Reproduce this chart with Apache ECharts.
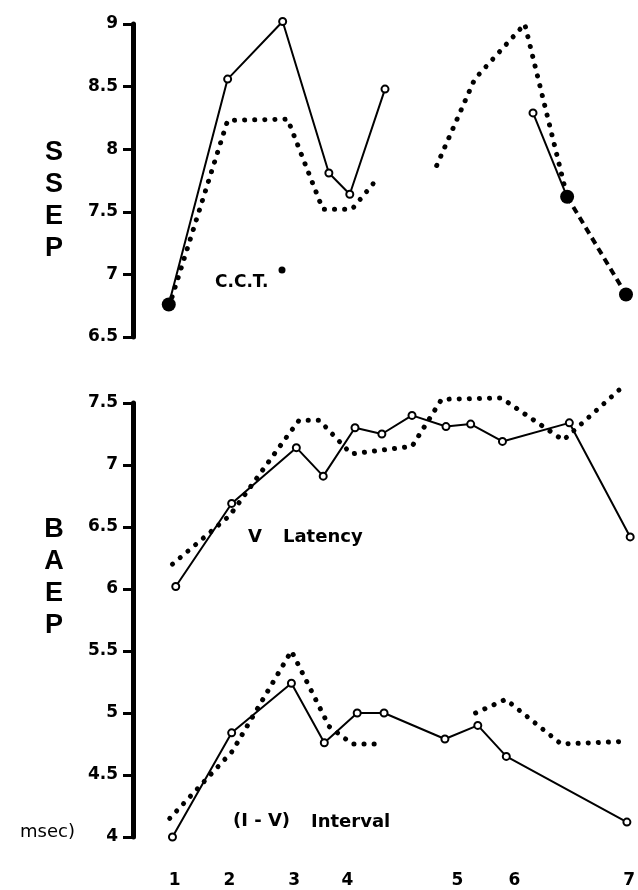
<!DOCTYPE html>
<html><head><meta charset="utf-8">
<script src="https://cdn.jsdelivr.net/npm/echarts@6/dist/echarts.min.js"></script>
<style>html,body{margin:0;padding:0;background:#fff}#c{width:638px;height:890px}</style>
</head><body><div id="c"></div>
<script>
// ---- tick labels ----
const xTickValues = [1, 2, 3.18, 4.15, 6.16, 7.2, 9.29];
const xTickLabels = ['1', '2', '3', '4', '5', '6', '7'];
const ssepTickValues = [6.5, 7, 7.5, 8, 8.5, 9];
const ssepTickLabels = ['6.5', '7', '7.5', '8', '8.5', '9'];
const baepTickValues = [4, 4.5, 5, 5.5, 6, 6.5, 7, 7.5];
const baepTickLabels = ['4', '4.5', '5', '5.5', '6', '6.5', '7', '7.5'];

// ---- SSEP ----
const ssepSolidAX = [0.89, 1.96, 2.96, 3.8, 4.18, 4.82];
const ssepSolidAY = [6.76, 8.56, 9.02, 7.81, 7.64, 8.48];
const ssepDotAX = [0.95, 1.96, 3.05, 3.69, 4.22, 4.69];
const ssepDotAY = [6.82, 8.23, 8.24, 7.52, 7.52, 7.77];
const ssepDotBX = [5.76, 6.45, 7.36, 8.13];
const ssepDotBY = [7.87, 8.56, 9.0, 7.62];
const ssepSolidBX = [7.51, 8.13];
const ssepSolidBY = [8.29, 7.62];
const ssepDashX = [8.13, 9.2];
const ssepDashY = [7.62, 6.84];

// ---- BAEP V latency ----
const latSolidX = [1.02, 2.04, 3.22, 3.71, 4.29, 4.78, 5.33, 5.95, 6.4, 6.98, 8.2, 9.31];
const latSolidY = [6.02, 6.69, 7.14, 6.91, 7.30, 7.25, 7.40, 7.31, 7.33, 7.19, 7.34, 6.42];
const latDotX = [0.96, 2.0, 3.0, 3.27, 3.64, 4.22, 5.33, 5.87, 6.96, 8.09, 9.22];
const latDotY = [6.2, 6.59, 7.2, 7.36, 7.36, 7.09, 7.15, 7.53, 7.54, 7.2, 7.65];

// ---- BAEP (I-V) interval ----
const intSolidX = [0.96, 2.04, 3.13, 3.73, 4.33, 4.82, 5.93, 6.53, 7.05, 9.25];
const intSolidY = [4.0, 4.84, 5.24, 4.76, 5.0, 5.0, 4.79, 4.90, 4.65, 4.12];
const intDotAX = [0.91, 2.05, 3.13, 3.82, 4.24, 4.82];
const intDotAY = [4.15, 4.69, 5.5, 4.89, 4.75, 4.75];
const intDotBX = [6.49, 7.04, 8.05, 9.18];
const intDotBY = [5.0, 5.11, 4.75, 4.77];

const zip = (xs, ys) => xs.map((x, i) => [x, ys[i]]);
const last = a => a[a.length - 1];
const cctPoints = [
  [ssepSolidAX[0], ssepSolidAY[0]],
  [last(ssepSolidBX), last(ssepSolidBY)],
  [last(ssepDashX), last(ssepDashY)]
];

const FONT = '"DejaVu Sans", sans-serif';
function solid(g, xs, ys) {
  return { type: 'line', xAxisIndex: g, yAxisIndex: g, data: zip(xs, ys), clip: false,
    symbol: 'circle', symbolSize: 7, z: 4,
    itemStyle: { color: '#fff', borderColor: '#000', borderWidth: 2, opacity: 1 },
    lineStyle: { color: '#000', width: 2 } };
}
function dotted(g, xs, ys) {
  return { type: 'line', xAxisIndex: g, yAxisIndex: g, data: zip(xs, ys), clip: false,
    symbol: 'none', showSymbol: false, z: 3,
    lineStyle: { color: '#000', width: 5, type: [0.1, 10], cap: 'round', join: 'round' } };
}
function lookup(vals, labs) {
  return v => { const i = vals.findIndex(t => Math.abs(t - v) < 1e-6); return i >= 0 ? labs[i] : ''; };
}
function yAxis(g, min, max, vals, labs) {
  return { type: 'value', gridIndex: g, min: min, max: max, interval: 0.5,
    splitLine: { show: false },
    axisLine: { show: true, onZero: false, lineStyle: { color: '#000', width: 5 } },
    axisTick: { show: true, length: 10, customValues: vals, lineStyle: { color: '#000', width: 3 } },
    axisLabel: { show: true, margin: 15, customValues: vals, formatter: lookup(vals, labs),
      color: '#000', fontFamily: FONT, fontWeight: 'bold', fontSize: 17 } };
}
function xAxis(g, showLabels) {
  return { type: 'value', gridIndex: g, min: 0.24, max: 9.4,
    splitLine: { show: false }, axisLine: { show: false }, axisTick: { show: false },
    axisLabel: { show: showLabels, margin: 35, customValues: xTickValues,
      formatter: lookup(xTickValues, xTickLabels),
      color: '#000', fontFamily: FONT, fontWeight: 'bold', fontSize: 17 } };
}

const chart = echarts.init(document.getElementById('c'), null, { renderer: 'canvas' });
chart.setOption({
  animation: false,
  backgroundColor: '#fff',
  grid: [
    { left: 133, right: 1, top: 24, height: 313 },
    { left: 133, right: 1, top: 403, height: 434 }
  ],
  xAxis: [xAxis(0, false), xAxis(1, true)],
  yAxis: [yAxis(0, 6.5, 9, ssepTickValues, ssepTickLabels), yAxis(1, 4, 7.5, baepTickValues, baepTickLabels)],
  series: [
    dotted(0, ssepDotAX, ssepDotAY),
    dotted(0, ssepDotBX, ssepDotBY),
    solid(0, ssepSolidAX, ssepSolidAY),
    solid(0, ssepSolidBX, ssepSolidBY),
    { type: 'line', xAxisIndex: 0, yAxisIndex: 0, data: zip(ssepDashX, ssepDashY), clip: false,
      symbol: 'none', showSymbol: false, z: 3,
      lineStyle: { color: '#000', width: 4, type: [7, 5] } },
    { type: 'scatter', name: 'C.C.T.', xAxisIndex: 0, yAxisIndex: 0, data: cctPoints, clip: false,
      symbol: 'circle', symbolSize: 14, z: 5, itemStyle: { color: '#000', opacity: 1 } },
    dotted(1, latDotX, latDotY),
    solid(1, latSolidX, latSolidY),
    dotted(1, intDotAX, intDotAY),
    dotted(1, intDotBX, intDotBY),
    solid(1, intSolidX, intSolidY)
  ],
  graphic: [
    { type: 'text', x: 54, y: 137, style: { text: 'S\nS\nE\nP', fill: '#000', font: 'bold 27px "Liberation Sans", sans-serif', lineHeight: 32, align: 'center', verticalAlign: 'top', textAlign: 'center', textVerticalAlign: 'top' } },
    { type: 'text', x: 54, y: 514, style: { text: 'B\nA\nE\nP', fill: '#000', font: 'bold 27px "Liberation Sans", sans-serif', lineHeight: 32, align: 'center', verticalAlign: 'top', textAlign: 'center', textVerticalAlign: 'top' } },
    { type: 'text', x: 215, y: 283, style: { text: 'C.C.T.', fill: '#000', font: 'bold 17px "DejaVu Sans", sans-serif', align: 'left', verticalAlign: 'middle', textAlign: 'left', textVerticalAlign: 'middle' } },
    { type: 'circle', shape: { cx: 282, cy: 270, r: 3.5 }, style: { fill: '#000' } },
    { type: 'text', x: 248, y: 537, style: { text: 'V', fill: '#000', font: 'bold 18px "DejaVu Sans", sans-serif', align: 'left', verticalAlign: 'middle', textAlign: 'left', textVerticalAlign: 'middle' } },
    { type: 'text', x: 283, y: 537, style: { text: 'Latency', fill: '#000', font: 'bold 18px "DejaVu Sans", sans-serif', align: 'left', verticalAlign: 'middle', textAlign: 'left', textVerticalAlign: 'middle' } },
    { type: 'text', x: 233, y: 821, style: { text: '(I - V)', fill: '#000', font: 'bold 18px "DejaVu Sans", sans-serif', align: 'left', verticalAlign: 'middle', textAlign: 'left', textVerticalAlign: 'middle' } },
    { type: 'text', x: 311, y: 822, style: { text: 'Interval', fill: '#000', font: 'bold 18px "DejaVu Sans", sans-serif', align: 'left', verticalAlign: 'middle', textAlign: 'left', textVerticalAlign: 'middle' } },
    { type: 'text', x: 20, y: 832, style: { text: 'msec)', fill: '#000', font: '18px "DejaVu Sans", sans-serif', align: 'left', verticalAlign: 'middle', textAlign: 'left', textVerticalAlign: 'middle' } }
  ]
});
</script></body></html>
